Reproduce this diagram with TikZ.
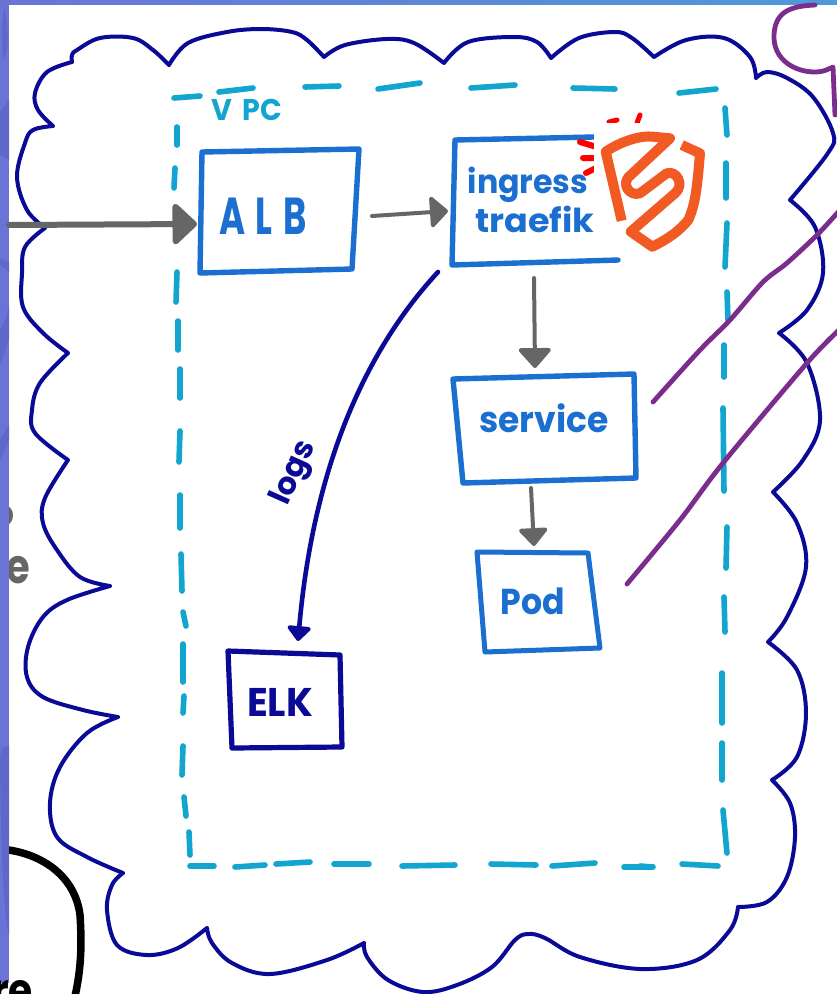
\documentclass[tikz,border=0pt]{standalone}
\usepackage{fontspec}
\setmainfont{Poppins}
\usetikzlibrary{arrows.meta}
\definecolor{cloudblue}{HTML}{0A0A96}
\definecolor{boxblue}{HTML}{1A6FD0}
\definecolor{vpccyan}{HTML}{12A5CF}
\definecolor{arrowgray}{HTML}{666666}
\definecolor{purplish}{HTML}{7B2D8E}
\definecolor{logoorange}{HTML}{F15A22}
\definecolor{stripa}{HTML}{6B74D6}
\definecolor{stripb}{HTML}{4F9AD8}
\definecolor{stripdark}{HTML}{5F68C8}
\tikzset{
  cloudline/.style={draw=cloudblue,line width=4pt,line cap=round,line join=round},
  vpcdash/.style={draw=vpccyan,line width=5.6pt,line cap=round},
  boxline/.style={draw=boxblue,line width=5.4pt,line cap=round,line join=round},
  elkline/.style={draw=cloudblue,line width=5.2pt,line cap=round,line join=round},
  purpleline/.style={draw=purplish,line width=4.8pt,line cap=round,line join=round},
  boxnode/.style={inner sep=0pt,outer sep=0pt},
  handtext/.style={inner sep=0pt,outer sep=0pt,text=boxblue,transform shape},
  grayarrow/.style={draw=arrowgray,fill=arrowgray,line cap=round}
}
\begin{document}
\begin{tikzpicture}[x=1pt,y=-1pt]
\useasboundingbox (0,0) rectangle (837,994);
\fill[white] (0,0) rectangle (837,994);

% clipped gray text from the neighbouring part of the sketch
\node[boxnode,text=arrowgray,font=\fontsize{38}{40}\selectfont\bfseries,xscale=.95,transform shape] (lefto) at (3,516) {o};
\node[boxnode,text=arrowgray,font=\fontsize{48}{50}\selectfont\bfseries,xscale=.8,transform shape] (lefte) at (18,570) {e};

% black curve
\draw[black,line width=7.5pt] (0,849) .. controls (40,852) and (75,875) .. (80,915) .. controls (82,945) and (81,970) .. (75,996);

% strips
\fill[stripa] (0,0) rectangle (9,983);
\shade[left color=stripa,right color=stripb] (0,0) rectangle (837,4);
\fill[stripdark] (0,112) -- (9,100) -- (9,160) -- (0,155) -- cycle;
\fill[stripdark] (4,5) .. controls (9,30) and (9,50) .. (3,60) -- (2,30) -- cycle;
\fill[stripdark] (0,265) -- (9,272) -- (9,262) -- (0,258) -- cycle;
\fill[stripdark] (0,330) .. controls (4,325) and (7,315) .. (9,305) -- (9,340) -- (0,365) -- cycle;
\fill[stripdark] (0,440) -- (9,425) -- (9,440) -- (0,460) -- cycle;
\fill[stripdark] (0,760) .. controls (2,740) and (6,750) .. (9,745) -- (9,935) .. controls (5,925) and (1,870) .. (0,760) -- cycle;

\node[boxnode,text=black,font=\fontsize{46}{48}\selectfont\bfseries,xscale=.85,transform shape,anchor=base west] (leftre) at (-8,1006) {re};

% top purple shape
\draw[purpleline] (815,5) .. controls (790,6) and (775,12) .. (774,35) .. controls (773,60) and (795,72) .. (815,72) .. controls (825,72) and (830,68) .. (833,67) -- (835,115);

% cloud
\draw[cloudline]
 plot[smooth,tension=.6] coordinates {(169,65) (188,43) (227,32) (261,29) (292,32) (307,40) (324,57)}
 plot[smooth,tension=.6] coordinates {(324,57) (345,45) (387,39) (414,43) (444,63)}
 plot[smooth,tension=.6] coordinates {(444,63) (468,42) (514,37) (537,42) (551,58)}
 plot[smooth,tension=.6] coordinates {(551,58) (579,38) (615,32) (632,38) (654,57)}
 plot[smooth,tension=.6] coordinates {(654,57) (686,40) (724,38) (750,57) (756,78)}
 plot[smooth,tension=.6] coordinates {(756,78) (767,72) (787,78) (813,97) (833,133) (828,153) (790,200)}
 plot[smooth,tension=.6] coordinates {(790,200) (815,227) (823,273) (807,310) (779,333)}
 plot[smooth,tension=.6] coordinates {(779,333) (807,363) (820,420) (803,460) (773,492)}
 plot[smooth,tension=.6] coordinates {(773,492) (797,523) (806,567) (787,617) (768,642)}
 plot[smooth,tension=.6] coordinates {(768,642) (797,670) (806,713) (797,757) (772,780)}
 plot[smooth,tension=.6] coordinates {(772,780) (790,803) (795,837) (787,877) (767,902) (738,907)}
 plot[smooth,tension=.6] coordinates {(738,907) (730,930) (697,960) (641,969) (580,957) (545,938) (528,934) (515,940) (492,967) (457,985) (423,992) (388,980) (367,957) (364,943)}
 plot[smooth,tension=.6] coordinates {(364,943) (327,960) (270,974) (232,963) (212,943) (207,928)}
 plot[smooth,tension=.6] coordinates {(207,928) (178,948) (147,955) (117,945) (107,910) (112,885) (123,873)}
 plot[smooth,tension=.6] coordinates {(123,873) (87,857) (57,837) (50,803) (60,767) (87,733) (118,717)}
 plot[smooth,tension=.6] coordinates {(118,717) (83,710) (43,697) (27,677) (28,647) (43,617) (67,600) (110,586)}
 plot[smooth,tension=.6] coordinates {(110,586) (80,577) (57,550) (43,523) (45,498) (68,460)}
 plot[smooth,tension=.6] coordinates {(68,460) (35,433) (32,410) (40,383) (68,353)}
 plot[smooth,tension=.6] coordinates {(68,353) (43,333) (23,307) (22,273) (25,247) (45,228)}
 plot[smooth,tension=.6] coordinates {(45,228) (27,210) (17,177) (25,143) (33,130) (53,126)}
 plot[smooth,tension=.6] coordinates {(53,126) (38,110) (35,93) (47,72) (72,62)}
 plot[smooth,tension=.6] coordinates {(72,62) (72,55) (77,50) (100,38) (133,38) (153,50) (169,65)};

% VPC dashed boundary, stroke by stroke
\foreach \xa/\ya/\xb/\yb in {
 174/98/200/96,219/92/253/88,305/87/339/86,378/89/420/83,471/88/515/85,573/88/615/89,679/93/716/89,
 725/108/727/135,726/163/726/198,727/223/725/267,727/292/728/320,724/345/724/377,723/408/724/491,
 727/527/726/568,724/597/725/632,722/673/722/723,722/743/722/780,723/810/727/853,
 682/864/718/866,640/866/652/867,
 190/866/214/866,235/867/265/865,276/864/310/862,334/864/369/864,402/866/455/865,491/864/536/865,552/866/595/863,624/867/653/867,
 177/127/177/145,175/168/174/188,177/272/176/302,178/321/178/350,180/369/180/398,180/431/179/462,180/495/180/528,181/554/182/591,183/612/186/626,183/644/183/682,184/696/183/713,183/746/182/775,184/797/186/816,189/832/190/855}
 {\draw[vpcdash] (\xa,\ya) -- (\xb,\yb);}

% VPC label
\node[handtext,text=vpccyan,font=\fontsize{30}{32}\selectfont\bfseries,anchor=base,xscale=.95] (vpc) at (247,120) {V\kern 11pt PC};

% outlines
\draw[boxline] (202,152) -- (359,149) -- (352,269) -- (200,273) -- cycle;
\draw[boxline] (594,137) -- (455,140) -- (452,265) -- (618,260);
\draw[boxline] (453,379) -- (634,374) -- (636,478) -- (463,483) -- cycle;
\draw[boxline,line width=5pt] (477,552) -- (588,553) -- (600,648) -- (485,652) -- cycle;
\draw[elkline] (228,651) -- (340,655) -- (342,747) -- (232,748) -- cycle;

% box anchors
\node[boxnode,minimum width=156pt,minimum height=122pt] (alb) at (279,211) {};
\node[boxnode,minimum width=166pt,minimum height=126pt] (ing) at (535,201) {};
\node[boxnode,minimum width=180pt,minimum height=106pt] (svc) at (545,429) {};
\node[boxnode,minimum width=120pt,minimum height=98pt] (pod) at (540,602) {};
\node[boxnode,minimum width=112pt,minimum height=96pt] (elk) at (285,701) {};
\coordinate (incoming) at (9,225);

% texts
\node[handtext,font=\fontsize{52}{54}\selectfont\bfseries,xscale=.68] (albt) at (263,216) {A\kern 16pt L\kern 16pt B};
\node[handtext,font=\fontsize{33}{35}\selectfont\bfseries,xscale=.96,anchor=base] (ingt) at (528,193) {ingress};
\node[handtext,font=\fontsize{33}{35}\selectfont\bfseries,xscale=1.06,anchor=base] (traet) at (535,232) {traefik};
\node[handtext,font=\fontsize{36}{38}\selectfont\bfseries,xscale=.96,anchor=base] (svct) at (544,432) {service};
\node[handtext,font=\fontsize{36}{38}\selectfont\bfseries,xscale=.92,anchor=base] (podt) at (533,614) {Pod};
\node[handtext,text=cloudblue,font=\fontsize{40}{42}\selectfont\bfseries,xscale=.96,anchor=base] (elkt) at (280,716) {ELK};
\node[boxnode,text=cloudblue,font=\fontsize{31}{33}\selectfont\bfseries,rotate=66] (logsl) at (295,473) {logs};

% red spark behind the logo
\draw[red,line width=6pt,line cap=round] (580,142) -- (600,148) (583,158) -- (600,158) (586,173) -- (600,166);
% logo
\fill[white] (594,123) rectangle (707,256);
\draw[red,line width=5pt,line cap=round] (609,122) -- (617,120) (640,115) -- (637,123);
\fill[white] (594,123) rectangle (707,256);
\draw[logoorange,line width=10pt,line join=round]
 (621.7,220.7) -- (605.7,151.7) .. controls (620,142) and (640,135) .. (653.3,136.7) -- (670,138.3)
 -- (628.3,177.3) .. controls (621.7,185) and (630,196.7) .. (640,193.3) -- (666.7,173.3)
 .. controls (676.7,170) and (685,185) .. (675,193.3) -- (630.7,231.7) -- (652.3,246.7)
 .. controls (670,238) and (680,230) .. (688.3,220) .. controls (695,205) and (697,190) .. (700,153.3) -- (681.7,145);

% connectors
\draw[grayarrow,line width=6pt,-{Triangle[length=26pt,width=47pt,round]}] (incoming) -- ([shift={(-4,13)}]alb.west);
\draw[grayarrow,line width=4pt,-{Triangle[length=19pt,width=35pt,round]}] ([shift={(15,5)}]alb.east) -- ([shift={(-4,10)}]ing.west);
\draw[grayarrow,line width=4pt,-{Triangle[length=21pt,width=36pt,round]}] ([shift={(-1,14)}]ing.south) -- ([shift={(-10,-8)}]svc.north);
\draw[grayarrow,line width=4pt,-{Triangle[length=19pt,width=32pt,round]}] ([shift={(-14,6)}]svc.south) -- ([shift={(-6,-7)}]pod.north);
\draw[cloudline,line width=4.6pt,-{Triangle[length=16pt,width=27pt,round,fill=cloudblue]}] ([shift={(-14,8)}]ing.south west) .. controls (375,340) and (315,450) .. ([shift={(13,-12)}]elk.north);

% purple lines
\draw[purpleline] plot[smooth,tension=.5] coordinates {(653,402) (700,350) (730,320) (763,282) (787,263) (817,235) (840,210)};
\draw[purpleline] plot[smooth,tension=.5] coordinates {(627,584) (680,520) (723,463) (807,363) (840,329)};
\end{tikzpicture}
\end{document}
